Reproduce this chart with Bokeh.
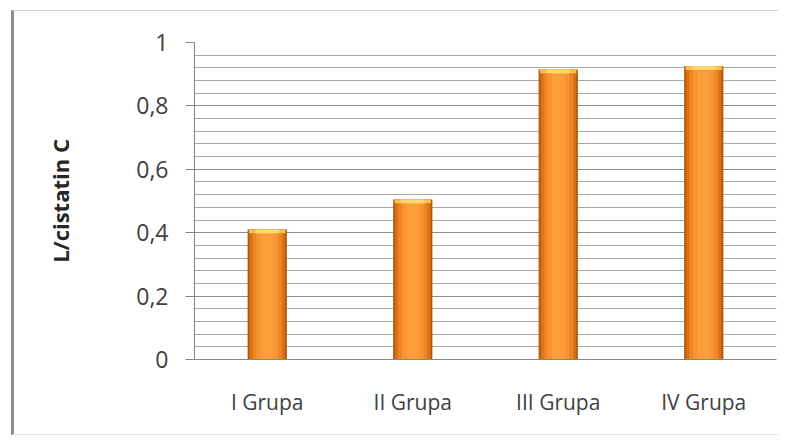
from bokeh.plotting import figure
from bokeh.models import FixedTicker, CustomJSTickFormatter, Range1d, ColumnDataSource
from bokeh.embed import file_html
from bokeh.resources import INLINE

# data
categories = ["I Grupa", "II Grupa", "III Grupa", "IV Grupa"]
values = [0.41, 0.505, 0.915, 0.925]
y_ticks = [0, 0.2, 0.4, 0.6, 0.8, 1.0]
y_minor = [0.04, 0.08, 0.12, 0.16, 0.24, 0.28, 0.32, 0.36, 0.44, 0.48, 0.52, 0.56,
           0.64, 0.68, 0.72, 0.76, 0.84, 0.88, 0.92, 0.96]
y_title = "L/cistatin C"

FONT = "Open Sans"

p = figure(x_range=categories, y_range=Range1d(0, 1),
           width=767, height=425, output_backend="svg", toolbar_location=None,
           min_border_left=180, min_border_right=5, min_border_top=31, min_border_bottom=77)
p.x_range.range_padding = 0
p.styles = {"transform": "translate(11px, 10px)",
            "border-left": "3px solid #8e8e8e",
            "border-top": "1px solid #d4d4d4",
            "border-bottom": "1px solid #e6e6e6"}
p.background_fill_color = "white"
p.border_fill_color = "white"
p.outline_line_color = None

src = ColumnDataSource(dict(cat=categories, val=values,
                            cap=[v - 0.012 for v in values]))

# cylinder-like shading with layered bars
layers = [(0.27, "#b85c08"), (0.24, "#d9731a"), (0.20, "#ec8624"),
          (0.15, "#f7942e"), (0.09, "#fc9f3a")]
for w, c in layers:
    p.vbar(x="cat", top="val", bottom=0, width=w, source=src, fill_color=c, line_color=None)
# light cap at the top of each bar
p.vbar(x="cat", top="val", bottom="cap", width=0.25, source=src,
       fill_color="#ffbf4d", line_color=None)
p.vbar(x="cat", top="val", bottom="cap", width=0.16, source=src,
       fill_color="#ffd873", line_color=None)

# grid
p.xgrid.grid_line_color = None
p.ygrid.ticker = FixedTicker(ticks=y_ticks, minor_ticks=y_minor)
p.ygrid.grid_line_color = "#8c8c8c"
p.ygrid.grid_line_width = 1
p.ygrid.minor_grid_line_color = "#a8a8a8"
p.ygrid.minor_grid_line_width = 1

# y axis
p.yaxis.ticker = FixedTicker(ticks=y_ticks)
p.yaxis.formatter = CustomJSTickFormatter(
    code="var s = (Math.round(tick*10)/10).toString(); return s.replace('.', ',');")
p.yaxis.axis_line_color = "#868686"
p.yaxis.major_tick_line_color = "#868686"
p.yaxis.major_tick_out = 9
p.yaxis.major_tick_in = 0
p.yaxis.minor_tick_line_color = None
p.yaxis.major_label_text_font = FONT
p.yaxis.major_label_text_font_size = "23px"
p.yaxis.major_label_text_color = "#404040"
p.yaxis.major_label_standoff = 17
p.yaxis.axis_label = y_title
p.yaxis.axis_label_text_font = FONT
p.yaxis.axis_label_text_font_style = "bold"
p.yaxis.axis_label_text_font_size = "22px"
p.yaxis.axis_label_text_color = "#262626"
p.yaxis.axis_label_standoff = 58

# x axis
p.xaxis.axis_line_color = "#868686"
p.xaxis.major_tick_line_color = None
p.xaxis.minor_tick_line_color = None
p.xaxis.major_label_text_font = FONT
p.xaxis.major_label_text_font_size = "21px"
p.xaxis.major_label_text_color = "#404040"
p.xaxis.major_label_standoff = 22

open("out.html", "w").write(file_html(p, INLINE))
